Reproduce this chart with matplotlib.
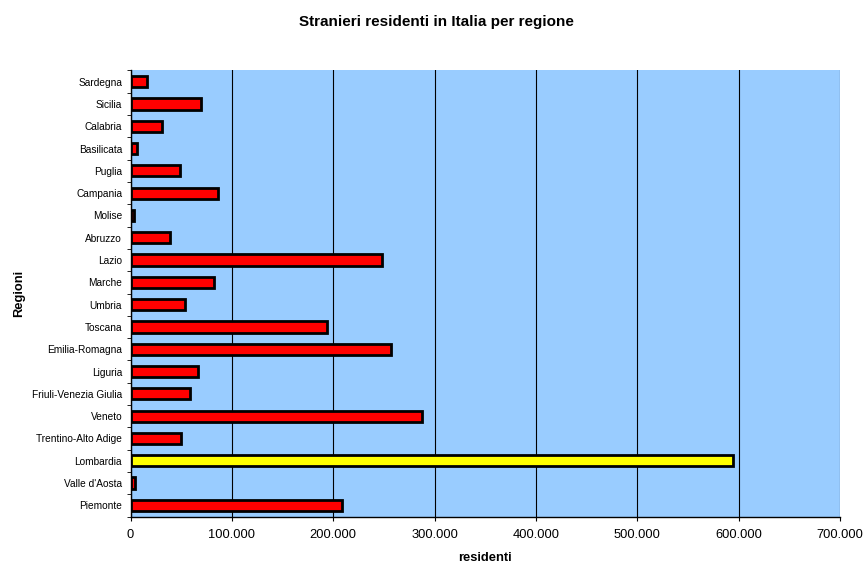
import matplotlib.pyplot as plt
from matplotlib.ticker import FuncFormatter, FixedLocator

regioni = [
    "Piemonte", "Valle d'Aosta", "Lombardia", "Trentino-Alto Adige", "Veneto",
    "Friuli-Venezia Giulia", "Liguria", "Emilia-Romagna", "Toscana", "Umbria",
    "Marche", "Lazio", "Abruzzo", "Molise", "Campania", "Puglia", "Basilicata",
    "Calabria", "Sicilia", "Sardegna",
]
residenti = [
    209000, 4500, 594000, 50000, 288000,
    59000, 66500, 257500, 194000, 54000,
    82000, 248000, 39000, 3900, 86000, 48500, 6200,
    31500, 70000, 16500,
]
evidenziata = "Lombardia"
x_ticks = [0, 100000, 200000, 300000, 400000, 500000, 600000, 700000]


def main():
    plt.rcParams["font.family"] = ["Liberation Sans", "DejaVu Sans"]
    fig = plt.figure(figsize=(8.65, 5.63), dpi=100)
    ax = fig.add_axes([130.5 / 865, 1 - 516.5 / 563, 709.5 / 865, 446 / 563])
    ax.set_facecolor("#99ccff")

    colori = ["#ffff00" if r == evidenziata else "#ff0000" for r in regioni]
    pos = list(range(len(regioni)))
    ax.barh(pos, residenti, height=0.5, color=colori, edgecolor="black",
            linewidth=2, zorder=3)

    ax.set_xlim(0, 700000)
    ax.set_ylim(-0.5, len(regioni) - 0.5)
    ax.xaxis.set_major_locator(FixedLocator(x_ticks))
    ax.xaxis.set_major_formatter(
        FuncFormatter(lambda v, p: f"{int(v):,}".replace(",", ".")))
    ax.grid(axis="x", color="black", linewidth=0.8, zorder=1)

    ax.set_yticks(pos)
    ax.set_yticklabels(regioni)
    ax.set_yticks([p - 0.5 for p in pos] + [len(regioni) - 0.5], minor=True)
    ax.tick_params(axis="y", which="major", length=0, labelsize=7.3, pad=6)
    ax.tick_params(axis="y", which="minor", length=3, direction="out")
    ax.tick_params(axis="x", length=3, labelsize=9.3, pad=6)

    for s in ["top", "right"]:
        ax.spines[s].set_visible(False)
    ax.spines["left"].set_linewidth(1)
    ax.spines["bottom"].set_linewidth(1)

    ax.set_xlabel("residenti", fontsize=9.3, fontweight="bold", labelpad=8)
    ax.set_ylabel("Regioni", fontsize=9.3, fontweight="bold", labelpad=5)
    fig.text(436 / 865, 1 - 22 / 563, "Stranieri residenti in Italia per regione",
             ha="center", va="center", fontsize=11, fontweight="bold")

    fig.savefig("out.png", dpi=100)
    plt.close(fig)


if __name__ == "__main__":
    main()
